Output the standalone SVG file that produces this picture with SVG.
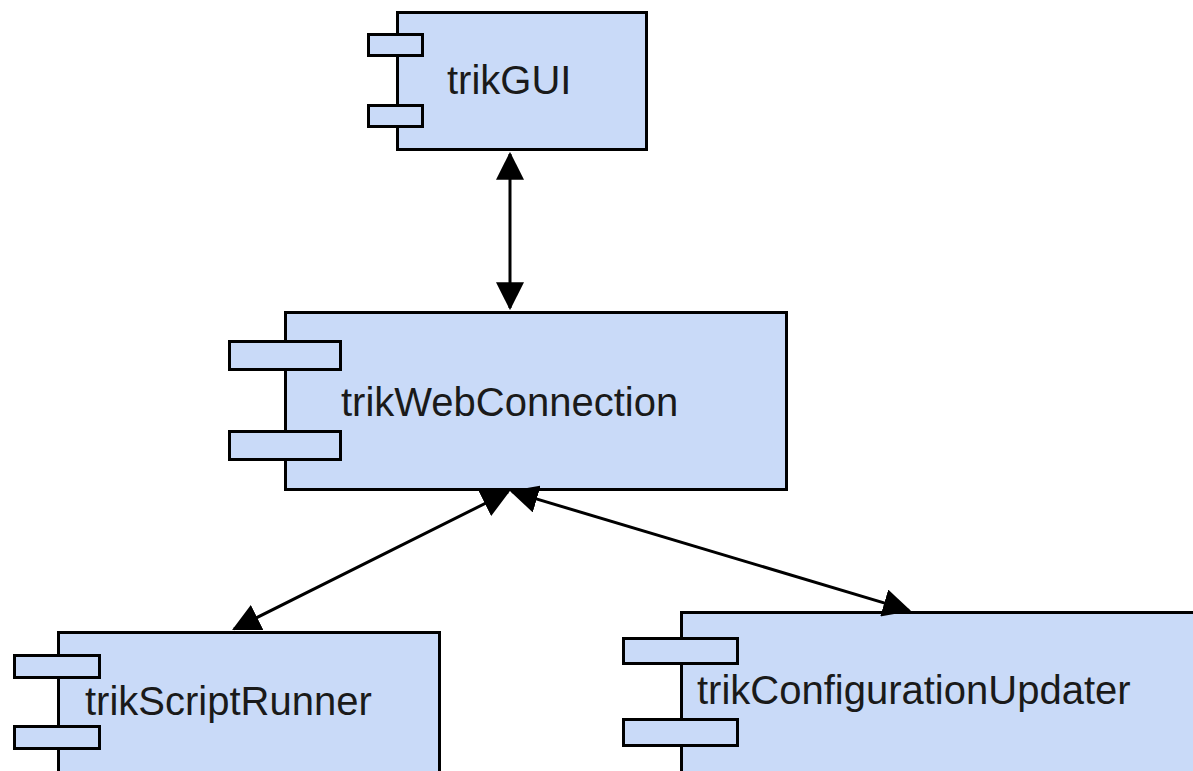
<svg xmlns="http://www.w3.org/2000/svg" width="1193" height="771" viewBox="0 0 1193 771">
  <style>
    .box { fill: #c9daf8; stroke: #000; stroke-width: 3; }
    .lbl { font-family: "Liberation Sans", Arial, sans-serif; font-size: 40px; fill: #1a1a1a; }
    .conn { stroke: #000; stroke-width: 3; fill: none; marker-start: url(#arr); marker-end: url(#arr); }
  </style>
  <defs>
    <marker id="arr" markerUnits="userSpaceOnUse" markerWidth="28" markerHeight="28" viewBox="0 0 26 26" refX="24" refY="13" orient="auto-start-reverse">
      <path d="M0,0 L26,13 L0,26 z" fill="#000"/>
    </marker>
  </defs>
  <rect width="1193" height="771" fill="#fff"/>

  <g id="trikGUI">
    <rect class="box" x="397.5" y="12.5" width="249" height="137"/>
    <rect class="box" x="368.5" y="34.5" width="54" height="21"/>
    <rect class="box" x="368.5" y="105.5" width="54" height="21"/>
    <text class="lbl" x="447" y="94">trikGUI</text>
  </g>

  <g id="trikWebConnection">
    <rect class="box" x="285.5" y="312.5" width="501" height="177"/>
    <rect class="box" x="229.5" y="341.5" width="111" height="28"/>
    <rect class="box" x="229.5" y="431.5" width="111" height="28"/>
    <text class="lbl" x="341" y="416">trikWebConnection</text>
  </g>

  <g id="trikScriptRunner">
    <rect class="box" x="58.5" y="632.5" width="381" height="160"/>
    <rect class="box" x="14.5" y="655.5" width="85" height="22"/>
    <rect class="box" x="14.5" y="726.5" width="85" height="22"/>
    <text class="lbl" x="85" y="715">trikScriptRunner</text>
  </g>

  <g id="trikConfigurationUpdater">
    <rect class="box" x="681.5" y="612.5" width="540" height="180"/>
    <rect class="box" x="623.5" y="638.5" width="114" height="25"/>
    <rect class="box" x="623.5" y="719.5" width="114" height="26"/>
    <text class="lbl" x="697" y="704">trikConfigurationUpdater</text>
  </g>

  <g id="connectors">
    <line class="conn" x1="510" y1="154" x2="510" y2="308"/>
    <line class="conn" x1="508" y1="492" x2="234" y2="629"/>
    <line class="conn" x1="512" y1="491.6" x2="909" y2="610.4"/>
  </g>
</svg>
